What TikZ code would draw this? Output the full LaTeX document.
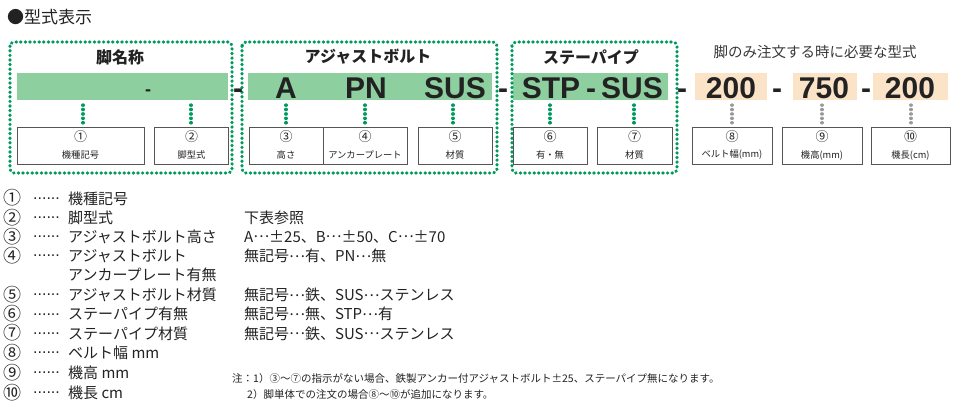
\documentclass[tikz,border=0pt]{standalone}
\usepackage{fontspec}
\setmainfont{Noto Sans CJK JP}
\newfontfamily\lat{Liberation Sans}
\definecolor{gbar}{HTML}{8DCF9F}
\definecolor{gdot}{HTML}{009A5E}
\definecolor{obar}{HTML}{FBE3C8}
\definecolor{gline}{HTML}{555555}
\definecolor{txt}{HTML}{222222}
\newcommand{\md}{\raisebox{0.3em}{…}}
\tikzset{
  grpbox/.style={draw=gdot, line width=3.4bp, line cap=round, dash pattern=on 0.3bp off 4.3bp, rounded corners=4bp},
  gconn/.style={draw=gdot, line width=3.4bp, line cap=round, dash pattern=on 0.3bp off 4.1bp},
  oconn/.style={draw=gray!80, line width=3.2bp, line cap=round, dash pattern=on 0.3bp off 4.1bp},
  lbox/.style={draw=gline, line width=0.8bp},
  big/.style={font=\lat\fontsize{30bp}{30bp}\selectfont\bfseries, text=txt, anchor=base, inner sep=0pt},
  head/.style={font=\fontsize{16bp}{16bp}\selectfont\bfseries, text=txt, inner sep=0pt},
  lab/.style={font=\fontsize{9.3bp}{10bp}\selectfont, text=txt, inner sep=0pt},
  labn/.style={font=\fontsize{13bp}{13bp}\selectfont, text=txt, inner sep=0pt},
  item/.style={font=\fontsize{15bp}{15bp}\selectfont, text=txt, inner sep=0pt, anchor=west},
  itemn/.style={font=\fontsize{18bp}{18bp}\selectfont, text=txt, inner sep=0pt, anchor=base},
  note/.style={font=\fontsize{10.5bp}{11bp}\selectfont, text=txt, inner sep=0pt, anchor=west},
}
\begin{document}
\begin{tikzpicture}[x=1bp,y=-1bp]
\useasboundingbox (0,0) rectangle (960,409);
% title
\node[font=\fontsize{17bp}{17bp}\selectfont, text=txt, inner sep=0pt, anchor=west] (title) at (7,17) {●型式表示};
% bars
\fill[gbar] (17,73) rectangle (228,100);
\fill[gbar] (248,73) rectangle (492,100);
\fill[gbar] (513,73) rectangle (668,100);
\fill[obar] (695,73) rectangle (767,100);
\fill[obar] (793,73) rectangle (857,100);
\fill[obar] (873,73) rectangle (948,100);
% group boxes
\draw[grpbox] (10,42) rectangle (232,173);
\draw[grpbox] (242,42) rectangle (497,173);
\draw[grpbox] (512,42) rectangle (677,173);
% headings
\node[head] (h1) at (120,57) {脚名称};
\node[head] (h2) at (368,57) {アジャストボルト};
\node[head] (h3) at (591,57) {ステーパイプ};
\node[font=\fontsize{14.5bp}{14.5bp}\selectfont, text=txt!90, inner sep=0pt] (h4) at (815,52) {脚のみ注文する時に必要な型式};
% code text
\node[big] (d0) at (148,95) {\fontsize{18bp}{18bp}\selectfont -};
\node[big] (d1) at (238,98) {-};
\node[big] (cA) at (286,98) {A};
\node[big] (cPN) at (366,98) {PN};
\node[big] (cSUS) at (455,98) {SUS};
\node[big] (d2) at (503,98) {-};
\node[big] (cSTP) at (551,98) {STP};
\node[big] (d3) at (591,98) {-};
\node[big] (cSUS2) at (632,98) {SUS};
\node[big] (d4) at (682,98) {-};
\node[big] (n1) at (731,98) {200};
\node[big] (d5) at (777,98) {-};
\node[big] (n2) at (824,98) {750};
\node[big] (d6) at (866,98) {-};
\node[big] (n3) at (910,98) {200};
% label boxes
\newcommand{\lboxat}[5]{%
  \node[lbox, minimum width=#3bp, minimum height=37bp, inner sep=0pt] (#1) at (#2,145.5) {};
  \node[labn] (#1n) at (#2,137) {#4};
  \node[lab] (#1t) at (#2,155) {#5};}
\lboxat{b1}{80.5}{127}{①}{機種記号}
\lboxat{b2}{191.5}{74}{②}{脚型式}
\lboxat{b3}{286}{74}{③}{高さ}
\lboxat{b4}{365}{84}{④}{アンカープレート}
\lboxat{b5}{455}{74}{⑤}{材質}
\lboxat{b6}{550}{74}{⑥}{有・無}
\lboxat{b7}{634.5}{75}{⑦}{材質}
\lboxat{b8}{732}{80}{⑧}{ベルト幅(mm)}
\lboxat{b9}{822}{80}{⑨}{機高(mm)}
\lboxat{b10}{910.5}{79}{⑩}{機長(cm)}
% connectors
\coordinate (c1) at (83,105);
\coordinate (c2) at (191,105);
\coordinate (c3) at (286,105);
\coordinate (c4) at (365,105);
\coordinate (c5) at (453,105);
\coordinate (c6) at (550,105);
\coordinate (c7) at (634,105);
\coordinate (c8) at (732,105);
\coordinate (c9) at (822,105);
\coordinate (c10) at (911,105);
\draw[gconn] (c1) -- ([yshift=2bp]c1 |- b1.north);
\draw[gconn] (c2) -- ([yshift=2bp]c2 |- b2.north);
\draw[gconn] (c3) -- ([yshift=2bp]c3 |- b3.north);
\draw[gconn] (c4) -- ([yshift=2bp]c4 |- b4.north);
\draw[gconn] (c5) -- ([yshift=2bp]c5 |- b5.north);
\draw[gconn] (c6) -- ([yshift=2bp]c6 |- b6.north);
\draw[gconn] (c7) -- ([yshift=2bp]c7 |- b7.north);
\draw[oconn] (c8) -- ([yshift=2bp]c8 |- b8.north);
\draw[oconn] (c9) -- ([yshift=2bp]c9 |- b9.north);
\draw[oconn] (c10) -- ([yshift=2bp]c10 |- b10.north);
% legend
\newcommand{\legrow}[4]{%
  \node[itemn] (l#1n) at (12.5,#2+6.3) {#3};
  \node[font=\lat\fontsize{16bp}{16bp}\selectfont, text=txt, inner sep=0pt, anchor=west] (l#1d) at (33,#2) {......};
  \node[item] (l#1t) at (68,#2) {#4};}
\legrow{1}{198.5}{①}{機種記号}
\legrow{2}{217.7}{②}{脚型式}
\legrow{3}{236.7}{③}{アジャストボルト高さ}
\legrow{4}{256}{④}{アジャストボルト}
\node[item] (l4b) at (68,274.5) {アンカープレート有無};
\legrow{5}{295}{⑤}{アジャストボルト材質}
\legrow{6}{314.3}{⑥}{ステーパイプ有無}
\legrow{7}{333.5}{⑦}{ステーパイプ材質}
\legrow{8}{352.7}{⑧}{ベルト幅 mm}
\legrow{9}{372.7}{⑨}{機高 mm}
\legrow{10}{392.7}{⑩}{機長 cm}
\node[item] (r2) at (244,217.7) {下表参照};
\node[item] (r3) at (244,236.7) {A\md±25、B\md±50、C\md±70};
\node[item] (r4) at (244,256) {無記号\md 有、PN\md 無};
\node[item] (r5) at (244,295) {無記号\md 鉄、SUS\md ステンレス};
\node[item] (r6) at (244,314.3) {無記号\md 無、STP\md 有};
\node[item] (r7) at (244,333.5) {無記号\md 鉄、SUS\md ステンレス};
\node[note] (nt1) at (232,379) {注：1）③～⑦の指示がない場合、鉄製アンカー付アジャストボルト±25、ステーパイプ無になります。};
\node[note] (nt2) at (247,394) {2）脚単体での注文の場合⑧～⑩が追加になります。};
\end{tikzpicture}
\end{document}
